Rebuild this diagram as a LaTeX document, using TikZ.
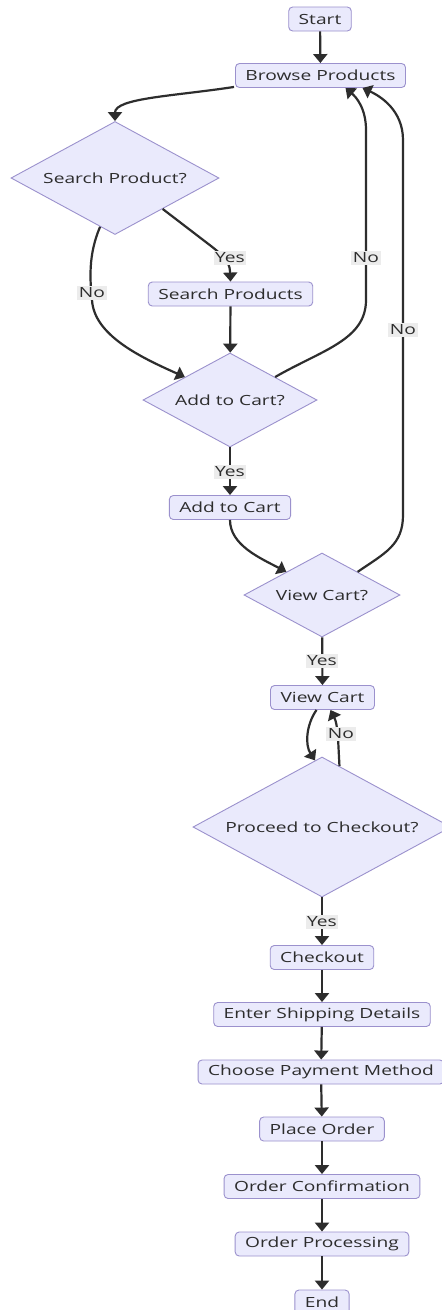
\documentclass[tikz,border=0pt]{standalone}
\usepackage{fontspec}
\setmainfont{Open Sans}[FakeStretch=1.37]
\usetikzlibrary{shapes.geometric,arrows.meta}
\definecolor{nodefill}{RGB}{234,234,252}
\definecolor{nodeline}{RGB}{155,145,205}
\definecolor{edgecol}{RGB}{45,45,45}
\definecolor{lblfill}{RGB}{236,236,236}
\definecolor{txt}{RGB}{45,45,45}
\tikzset{
  box/.style={draw=nodeline, fill=nodefill, line width=0.9pt, rounded corners=4pt,
    minimum height=24pt, inner xsep=10pt, inner ysep=0pt, text=txt,
    font=\fontsize{14}{16}\selectfont},
  dia/.style={draw=nodeline, fill=nodefill, line width=0.9pt, shape=diamond,
    inner sep=0pt, text=txt, font=\fontsize{14}{16}\selectfont},
  edge/.style={draw=edgecol, line width=2.2pt, -{Triangle[length=9pt,width=14pt]}},
  lbl/.style={fill=lblfill, text=txt, inner sep=1.5pt, font=\fontsize{14}{16}\selectfont}
}
\begin{document}
\begin{tikzpicture}[x=1pt,y=1pt]
\useasboundingbox (0,0) rectangle (442,-1310);
\fill[white] (0,0) rectangle (442,-1310);

% nodes
\node[box] (start) at (320,-19) {Start};
\node[box] (browse) at (320.5,-75.5) {Browse Products};
\node[dia, minimum width=208pt, minimum height=113pt, aspect=1.84] (sq) at (115,-178) {Search Product?};
\node[box] (sp) at (230.5,-294) {Search Products};
\node[dia, minimum width=174pt, minimum height=94pt, aspect=1.85] (aq) at (230,-400) {Add to Cart?};
\node[box] (ac) at (230,-507.5) {Add to Cart};
\node[dia, minimum width=156pt, minimum height=84pt, aspect=1.85] (vq) at (322,-595) {View Cart?};
\node[box] (vc) at (322.5,-697.5) {View Cart};
\node[dia, minimum width=258pt, minimum height=140pt, aspect=1.8] (pq) at (322,-827) {Proceed to Checkout?};
\node[box] (co) at (322,-957.5) {Checkout};
\node[box] (sh) at (322,-1014.5) {Enter Shipping Details};
\node[box] (pm) at (321,-1072) {Choose Payment Method};
\node[box] (po) at (322,-1129) {Place Order};
\node[box] (oc) at (322,-1186.5) {Order Confirmation};
\node[box] (op) at (322,-1244) {Order Processing};
\node[box] (fin) at (322,-1302) {End};

% edges
\draw[edge] (start) -- (browse);
\draw[edge] ([xshift=-1pt,yshift=1pt]browse.south west) .. controls (175,-96) and (115,-98) .. (sq.north);
\draw[edge] (sq.-33) -- (211,-246) .. controls (228,-259) and (230,-266) .. (sp.north);
\draw[edge] (sq.253) .. controls (88,-255) and (90,-280) .. (92,-300) .. controls (94,-335) and (140,-357) .. (aq.153);
\draw[edge] (sp) -- (aq);
\draw[edge] (aq.27) .. controls (322,-350) and (366,-340) .. (366,-300) -- (366,-130) .. controls (366,-108) and (356,-97) .. ([xshift=25pt]browse.south);
\draw[edge] (aq) -- (ac);
\draw[edge] (ac.south) .. controls (230,-545) and (260,-558) .. (vq.147);
\draw[edge] (vq.33) .. controls (385,-553) and (403,-545) .. (403,-515) -- (403,-140) .. controls (403,-110) and (380,-96) .. ([xshift=42pt]browse.south);
\draw[edge] (vq) -- (vc);
\draw[edge] ([xshift=-6pt]vc.south) .. controls (306,-725) and (305,-745) .. (pq.96);
\draw[edge] (pq.74) .. controls (338,-740) and (338,-725) .. ([xshift=8pt]vc.south);
\draw[edge] (pq.south) -- (co.north);
\draw[edge] (co) -- (sh);
\draw[edge] (sh) -- (pm);
\draw[edge] (pm) -- (po);
\draw[edge] (po) -- (oc);
\draw[edge] (oc) -- (op);
\draw[edge] (op) -- (fin);

% edge labels
\node[lbl] (l1) at (230,-258) {Yes};
\node[lbl] (l2) at (92,-293) {No};
\node[lbl] (l3) at (366,-258) {No};
\node[lbl] (l4) at (230,-472) {Yes};
\node[lbl] (l5) at (403,-330) {No};
\node[lbl] (l6) at (322,-661) {Yes};
\node[lbl] (l7) at (341,-734) {No};
\node[lbl] (l8) at (322,-922) {Yes};
\end{tikzpicture}
\end{document}
